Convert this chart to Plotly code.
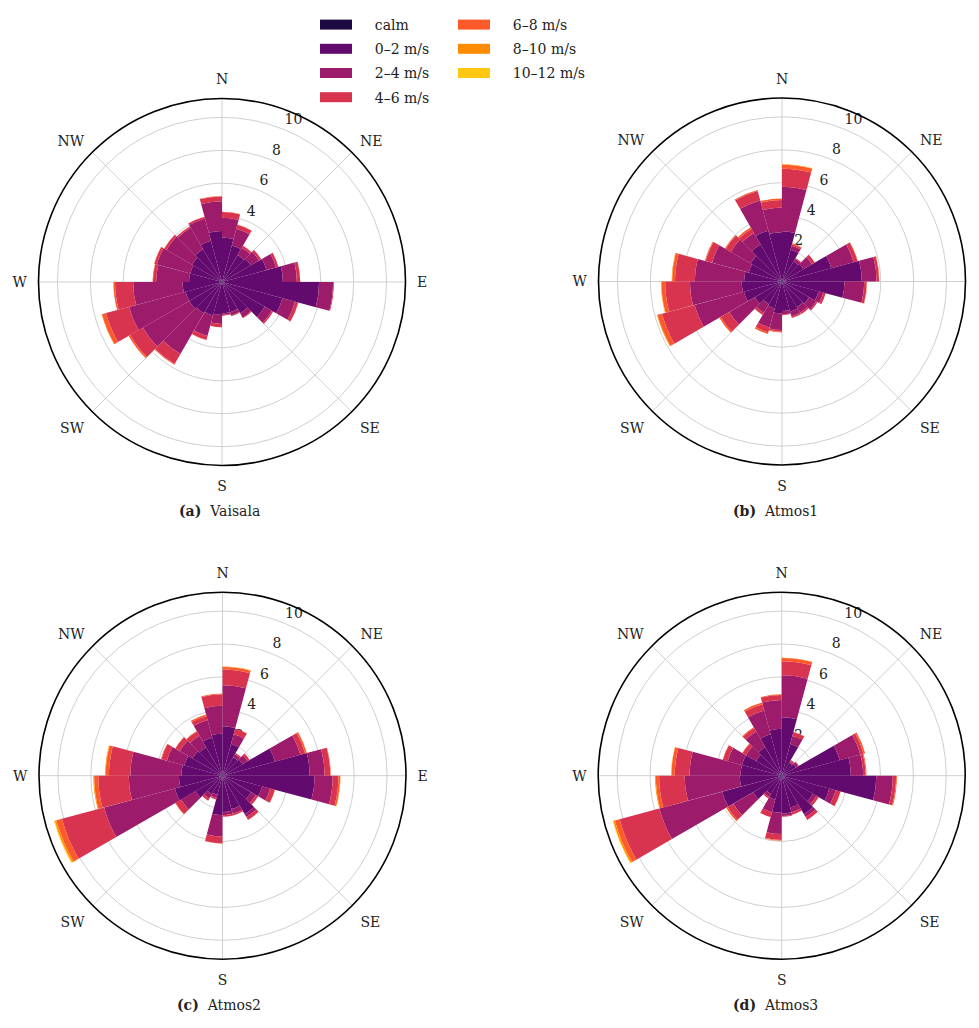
import plotly.graph_objects as go

# direction bins (start angle of each 15-degree sector, clockwise from North)
directions = [0, 15, 30, 45, 60, 75, 90, 105, 120, 135, 150, 165,
              180, 195, 210, 225, 240, 255, 270, 285, 300, 315, 330, 345]

speed_bins = ["calm", "0–2 m/s", "2–4 m/s", "4–6 m/s", "6–8 m/s", "8–10 m/s", "10–12 m/s"]
bin_colors = ["#1d0a43", "#620a6e", "#9c1c6b", "#d8334f", "#fc5a2a", "#ff8c00", "#ffc612"]

compass_vals = [0, 45, 90, 135, 180, 225, 270, 315]
compass_text = ["N", "NE", "E", "SE", "S", "SW", "W", "NW"]
radial_ticks = [2, 4, 6, 8, 10]
radial_labels = ["2", "4", "6", "8", "10"]

# ---- frequencies (%) per sector and speed bin ----
vaisala_calm = [0.1, 0.1, 0.1, 0.1, 0.1, 0.1, 0.1, 0.1, 0.1, 0.1, 0.1, 0.1,
                0.1, 0.1, 0.1, 0.1, 0.1, 0.1, 0.1, 0.1, 0.1, 0.1, 0.1, 0.1]
vaisala_0_2 = [2.6, 2.2, 1.8, 1.9, 2.7, 3.6, 5.8, 3.7, 2.9, 2.1, 1.8, 1.8,
               1.9, 2.0, 2.1, 2.2, 2.2, 2.3, 1.9, 1.9, 2.0, 2.2, 2.5, 3.0]
vaisala_2_4 = [1.2, 1.05, 0.5, 0.6, 0.6, 0.85, 0.85, 0.8, 0.5, 0.3, 0.2, 0.1,
               0.55, 1.3, 2.85, 3.25, 3.55, 3.0, 2.0, 2.1, 1.8, 1.5, 1.4, 1.8]
vaisala_4_6 = [0.35, 0.25, 0.15, 0.15, 0.15, 0.2, 0.05, 0.2, 0.1, 0.05, 0.05, 0.05,
               0.2, 0.25, 0.7, 0.9, 1.45, 1.1, 0.2, 0.15, 0.15, 0.1, 0.1, 0.3]
vaisala_6_8 = [0.02, 0.01, 0.0, 0.0, 0.0, 0.01, 0.0, 0.01, 0.0, 0.0, 0.0, 0.0,
               0.0, 0.01, 0.05, 0.1, 0.25, 0.1, 0.02, 0.02, 0.02, 0.01, 0.01, 0.03]
vaisala_8_10 = [0.0, 0.0, 0.0, 0.0, 0.0, 0.0, 0.0, 0.0, 0.0, 0.0, 0.0, 0.0,
                0.0, 0.0, 0.0, 0.0, 0.02, 0.0, 0.0, 0.0, 0.0, 0.0, 0.0, 0.0]
vaisala_10_12 = [0.0, 0.0, 0.0, 0.0, 0.0, 0.0, 0.0, 0.0, 0.0, 0.0, 0.0, 0.0,
                 0.0, 0.0, 0.0, 0.0, 0.0, 0.0, 0.0, 0.0, 0.0, 0.0, 0.0, 0.0]

atmos1_calm = [0.1, 0.1, 0.1, 0.1, 0.1, 0.1, 0.1, 0.1, 0.1, 0.1, 0.1, 0.1,
               0.1, 0.1, 0.1, 0.1, 0.1, 0.1, 0.1, 0.1, 0.1, 0.1, 0.1, 0.1]
atmos1_0_2 = [2.95, 1.9, 1.3, 1.4, 3.0, 4.75, 3.7, 2.2, 1.8, 1.7, 1.8, 1.7,
              1.85, 1.6, 1.5, 1.8, 2.3, 2.35, 2.2, 2.0, 2.1, 2.5, 3.1, 2.9]
atmos1_2_4 = [2.7, 0.25, 0.2, 0.6, 1.4, 0.9, 1.2, 0.3, 0.5, 0.4, 0.3, 0.2,
              1.0, 1.2, 0.6, 1.8, 3.1, 3.15, 3.0, 2.3, 1.4, 0.8, 1.9, 1.5]
atmos1_4_6 = [1.1, 0.1, 0.05, 0.2, 0.25, 0.15, 0.15, 0.15, 0.1, 0.1, 0.1, 0.05,
              0.1, 0.3, 0.15, 0.6, 2.05, 1.5, 1.2, 0.4, 0.35, 0.3, 0.6, 0.45]
atmos1_6_8 = [0.25, 0.05, 0.0, 0.0, 0.02, 0.02, 0.02, 0.0, 0.0, 0.0, 0.0, 0.0,
              0.05, 0.1, 0.0, 0.1, 0.28, 0.23, 0.18, 0.05, 0.05, 0.1, 0.05, 0.1]
atmos1_8_10 = [0.02, 0.0, 0.0, 0.0, 0.0, 0.0, 0.0, 0.0, 0.0, 0.0, 0.0, 0.0,
               0.0, 0.0, 0.0, 0.0, 0.04, 0.03, 0.03, 0.0, 0.0, 0.0, 0.0, 0.0]
atmos1_10_12 = [0.0, 0.0, 0.0, 0.0, 0.0, 0.0, 0.0, 0.0, 0.0, 0.0, 0.0, 0.0,
                0.0, 0.0, 0.0, 0.0, 0.0, 0.0, 0.0, 0.0, 0.0, 0.0, 0.0, 0.0]

atmos2_calm = [0.1, 0.1, 0.1, 0.1, 0.1, 0.1, 0.1, 0.1, 0.1, 0.1, 0.1, 0.1,
               0.1, 0.1, 0.1, 0.1, 0.1, 0.1, 0.1, 0.1, 0.1, 0.1, 0.1, 0.1]
atmos2_0_2 = [2.9, 1.9, 1.2, 1.3, 3.2, 5.2, 5.5, 2.4, 1.9, 2.6, 2.0, 2.1,
              2.3, 1.1, 1.2, 1.8, 2.9, 2.55, 2.4, 2.3, 2.0, 1.9, 2.3, 2.45]
atmos2_2_4 = [2.5, 0.6, 0.2, 0.35, 1.6, 0.9, 1.1, 0.5, 0.35, 0.2, 0.3, 0.2,
              1.3, 0.2, 0.3, 1.0, 4.45, 3.05, 3.1, 1.1, 0.9, 0.8, 1.1, 1.7]
atmos2_4_6 = [0.95, 0.35, 0.1, 0.15, 0.3, 0.35, 0.35, 0.3, 0.15, 0.2, 0.1, 0.1,
              0.4, 0.1, 0.15, 0.4, 2.65, 1.85, 1.3, 0.35, 0.3, 0.3, 0.25, 0.7]
atmos2_6_8 = [0.15, 0.02, 0.0, 0.0, 0.1, 0.03, 0.1, 0.01, 0.0, 0.0, 0.0, 0.0,
              0.03, 0.0, 0.0, 0.03, 0.35, 0.25, 0.2, 0.03, 0.02, 0.03, 0.1, 0.05]
atmos2_8_10 = [0.03, 0.0, 0.0, 0.0, 0.01, 0.0, 0.02, 0.0, 0.0, 0.0, 0.0, 0.0,
               0.0, 0.0, 0.0, 0.0, 0.1, 0.05, 0.04, 0.0, 0.0, 0.0, 0.0, 0.0]
atmos2_10_12 = [0.0, 0.0, 0.0, 0.0, 0.0, 0.0, 0.0, 0.0, 0.0, 0.0, 0.0, 0.0,
                0.0, 0.0, 0.0, 0.0, 0.05, 0.0, 0.0, 0.0, 0.0, 0.0, 0.0, 0.0]

atmos3_calm = [0.1, 0.1, 0.1, 0.1, 0.1, 0.1, 0.1, 0.1, 0.1, 0.1, 0.1, 0.1,
               0.1, 0.1, 0.1, 0.1, 0.1, 0.1, 0.1, 0.1, 0.1, 0.1, 0.1, 0.1]
atmos3_0_2 = [3.45, 1.9, 0.8, 0.9, 3.55, 4.1, 5.65, 2.9, 2.1, 2.6, 1.9, 2.2,
              2.15, 1.4, 1.2, 1.9, 3.65, 2.45, 2.4, 2.4, 1.7, 1.9, 2.5, 2.75]
atmos3_2_4 = [2.55, 0.5, 0.1, 0.15, 1.3, 0.75, 1.0, 0.4, 0.25, 0.2, 0.3, 0.15,
              1.3, 0.8, 0.2, 1.4, 3.95, 3.35, 3.1, 0.9, 0.7, 1.1, 1.5, 1.75]
atmos3_4_6 = [0.85, 0.25, 0.1, 0.05, 0.2, 0.15, 0.2, 0.3, 0.15, 0.2, 0.15, 0.05,
              0.35, 0.3, 0.1, 0.4, 2.5, 1.55, 0.9, 0.3, 0.25, 0.25, 0.4, 0.3]
atmos3_6_8 = [0.2, 0.02, 0.0, 0.0, 0.1, 0.05, 0.05, 0.01, 0.0, 0.0, 0.0, 0.0,
              0.05, 0.01, 0.0, 0.1, 0.3, 0.2, 0.2, 0.02, 0.02, 0.05, 0.1, 0.05]
atmos3_8_10 = [0.02, 0.0, 0.0, 0.0, 0.0, 0.0, 0.0, 0.0, 0.0, 0.0, 0.0, 0.0,
               0.0, 0.0, 0.0, 0.0, 0.1, 0.05, 0.02, 0.0, 0.0, 0.0, 0.0, 0.0]
atmos3_10_12 = [0.0, 0.0, 0.0, 0.0, 0.0, 0.0, 0.0, 0.0, 0.0, 0.0, 0.0, 0.0,
                0.0, 0.0, 0.0, 0.0, 0.03, 0.0, 0.0, 0.0, 0.0, 0.0, 0.0, 0.0]

stations = [
    ("<b>(a)</b>  Vaisala",
     [vaisala_calm, vaisala_0_2, vaisala_2_4, vaisala_4_6, vaisala_6_8, vaisala_8_10, vaisala_10_12]),
    ("<b>(b)</b>  Atmos1",
     [atmos1_calm, atmos1_0_2, atmos1_2_4, atmos1_4_6, atmos1_6_8, atmos1_8_10, atmos1_10_12]),
    ("<b>(c)</b>  Atmos2",
     [atmos2_calm, atmos2_0_2, atmos2_2_4, atmos2_4_6, atmos2_6_8, atmos2_8_10, atmos2_10_12]),
    ("<b>(d)</b>  Atmos3",
     [atmos3_calm, atmos3_0_2, atmos3_2_4, atmos3_4_6, atmos3_6_8, atmos3_8_10, atmos3_10_12]),
]

FONT = "DejaVu Serif"
W, H = 979, 1028
OFF = 8          # page body margin offset
R_PX = 183.5
RMAX = 11.15
centers = [(222 - OFF, 282 - OFF), (782 - OFF, 281.5 - OFF),
           (222.5 - OFF, 775.7 - OFF), (781.7 - OFF, 775.7 - OFF)]
caption_pos = [(211, 503), (767.5, 503), (211, 997), (767.5, 997)]

# radial tick labels sit just outside their ring, along the 22.5 deg bearing
LABEL_OUT = 0.7              # data units outward
LABEL_SHIFT = (-11.7, -4.9)  # px, cancels plotly's sideways label pad

label_subs = ["polar", "polar2", "polar3", "polar4"]
data_subs = ["polar5", "polar6", "polar7", "polar8"]

fig = go.Figure()

# label-only polar subplots (drawn underneath)
for sub in label_subs:
    fig.add_trace(go.Scatterpolar(r=[None], theta=[None], subplot=sub,
                                  mode="markers", showlegend=False, hoverinfo="skip"))

for sub, (caption, layers) in zip(data_subs, stations):
    for name, color, vals in zip(speed_bins, bin_colors, layers):
        fig.add_trace(go.Barpolar(
            r=vals, theta=directions, width=15, offset=0,
            subplot=sub, name=name, showlegend=False,
            marker=dict(color=color, line=dict(width=0)),
        ))

# legend entries (wide swatches)
for i, (name, color) in enumerate(zip(speed_bins, bin_colors)):
    fig.add_trace(go.Scatterpolar(
        r=[None], theta=[None], mode="lines", subplot="polar5",
        name="\u00a0\u00a0\u00a0\u00a0" + name, line=dict(color=color, width=10),
        legend="legend" if i < 4 else "legend2",
        legendgroup=name, showlegend=True,
    ))

layout = dict(
    width=W, height=H, template="none",
    paper_bgcolor="white", plot_bgcolor="white",
    margin=dict(l=0, r=0, t=0, b=0),
    font=dict(family=FONT, size=14, color="#222222"),
    legend=dict(x=307 / W, y=1 - 1 / H, xanchor="left", yanchor="top",
                font=dict(family=FONT, size=14), tracegroupgap=3,
                itemwidth=32, bgcolor="rgba(0,0,0,0)"),
    legend2=dict(x=445 / W, y=1 - 1 / H, xanchor="left", yanchor="top",
                 font=dict(family=FONT, size=14), tracegroupgap=3,
                 itemwidth=32, bgcolor="rgba(0,0,0,0)"),
    annotations=[],
)

for lsub, dsub, (caption, layers), (cx, cy), (ax_, ay_) in zip(
        label_subs, data_subs, stations, centers, caption_pos):
    # data polar
    layout[dsub] = dict(
        domain=dict(x=[(cx - R_PX) / W, (cx + R_PX) / W],
                    y=[1 - (cy + R_PX) / H, 1 - (cy - R_PX) / H]),
        bgcolor="rgba(0,0,0,0)",
        barmode="stack",
        angularaxis=dict(
            direction="clockwise", rotation=90,
            tickmode="array", tickvals=compass_vals, ticktext=compass_text,
            showline=True, linecolor="black", linewidth=1.6,
            showgrid=True, gridcolor="#cfcfcf", gridwidth=1.2,
            ticks="outside", ticklen=8, tickcolor="rgba(0,0,0,0)",
            tickfont=dict(family=FONT, size=14, color="#222222"),
            layer="below traces",
        ),
        radialaxis=dict(
            range=[0, RMAX], tickmode="array", tickvals=radial_ticks,
            showticklabels=False,
            showline=False, showgrid=True, gridcolor="#cfcfcf", gridwidth=1.2,
            ticks="", layer="below traces",
        ),
    )
    # label polar (same scale, only radial tick labels)
    lx, ly = cx + LABEL_SHIFT[0], cy + LABEL_SHIFT[1]
    layout[lsub] = dict(
        domain=dict(x=[(lx - R_PX) / W, (lx + R_PX) / W],
                    y=[1 - (ly + R_PX) / H, 1 - (ly - R_PX) / H]),
        bgcolor="white",
        angularaxis=dict(visible=False, showgrid=False, showline=False,
                         showticklabels=False, ticks=""),
        radialaxis=dict(
            range=[0, RMAX], tickmode="array",
            tickvals=[t + LABEL_OUT for t in radial_ticks], ticktext=radial_labels,
            showline=False, showgrid=False, ticks="",
            angle=67.5, tickangle=67.5,
            tickfont=dict(family=FONT, size=14, color="#222222"),
        ),
    )
    layout["annotations"].append(dict(
        text=caption, x=ax_ / W, y=1 - ay_ / H,
        xref="paper", yref="paper", showarrow=False,
        font=dict(family=FONT, size=14, color="#222222"),
        xanchor="center", yanchor="middle",
    ))

fig.update_layout(**layout)
fig.write_html("out.html")
